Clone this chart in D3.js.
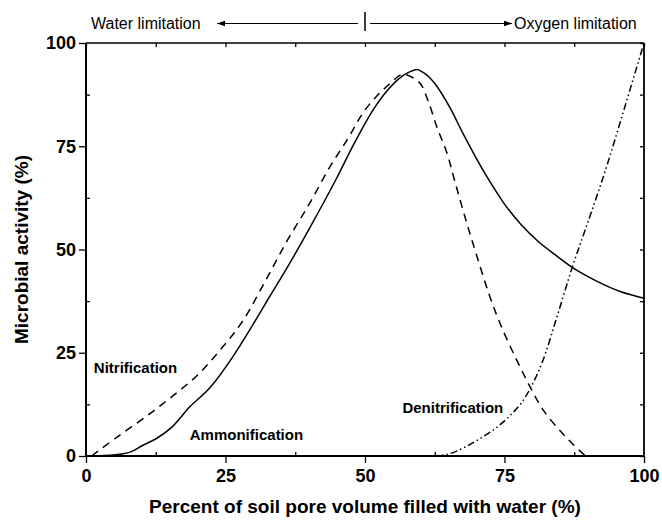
<!DOCTYPE html>
<html lang="en">
<head>
<meta charset="UTF-8">
<title>Microbial activity vs water-filled pore space</title>
<script src="https://d3js.org/d3.v7.min.js"></script>
<style>
  body { margin: 0; background: #fff; }
  svg { display: block; font-family: "Liberation Sans", Arial, sans-serif; }
  .tick text { font-size: 18px; font-weight: bold; fill: #000; }
  .curve { fill: none; stroke: #000; stroke-width: 1.5px; }
  .lbl { font-size: 15px; font-weight: bold; }
  .title { font-size: 19px; font-weight: bold; }
  .note { font-size: 16px; }
</style>
</head>
<body>
<svg width="662" height="520"></svg>
<script>
// x = % pore volume filled with water, y = microbial activity (%)
const ammonification = [
  [2, 0], [6, 0.4], [8, 1], [10.2, 2.6], [12.7, 4.3], [15.4, 7], [18.6, 11.9],
  [22.2, 16.5], [26.3, 24], [30, 32], [33, 38.8], [36, 45.5], [40, 55],
  [45, 67.5], [48, 75.5], [51.4, 83.7], [54, 88.5], [56.5, 91.8], [58, 93],
  [59.3, 93.6], [60.5, 92.8], [62.5, 90.2], [65.2, 84.4], [67.6, 78],
  [71.9, 67.5], [75, 61], [78, 56], [81, 52], [84, 48.8], [87, 45.8],
  [91.6, 42.3], [96, 39.7], [100, 38.2]
];
const nitrification = [
  [1, 0], [6, 5], [11, 9.8], [15.5, 14.5], [20, 19.6], [24, 25.6],
  [28, 32.5], [32, 42], [36, 52], [40, 61], [43.7, 70], [47, 77], [49.6, 83],
  [52, 87], [54.5, 90.2], [56.6, 92.4], [58, 92], [59.9, 90.2], [61.3, 86],
  [62.9, 79.6], [64.7, 73.3], [66, 67], [68, 57.5], [70, 48.6], [72.4, 38.5],
  [74.7, 30.5], [77.2, 23.2], [79.6, 16.7], [82, 11], [85.3, 5.6], [87.3, 2.8],
  [89.5, 0]
];
const denitrification = [
  [62, 0], [65, 0.5], [68, 2.2], [70.6, 4.2], [73, 6.3], [76, 9.8], [78, 12.8],
  [79.6, 16.3], [81.9, 23.2], [84.4, 33.7], [87.1, 45.5], [90.3, 58],
  [93.4, 70.5], [96, 82], [98, 91], [100, 100]
];
const majorTicks = [0, 25, 50, 75, 100];
const minorTicks = [12.5, 37.5, 62.5, 87.5];
const allTicks = [0, 12.5, 25, 37.5, 50, 62.5, 75, 87.5, 100];
const labels = [
  { text: "Nitrification", x: 1.4, y: 21.5 },
  { text: "Ammonification", x: 18.6, y: 5.2 },
  { text: "Denitrification", x: 56.7, y: 11.8 }
];

const margin = { top: 43, right: 18, bottom: 64, left: 86 };
const width = 662 - margin.left - margin.right;
const height = 520 - margin.top - margin.bottom;

const svg = d3.select("svg");
const g = svg.append("g").attr("transform", `translate(${margin.left},${margin.top})`);

const x = d3.scaleLinear().domain([0, 100]).range([0, width]);
const y = d3.scaleLinear().domain([0, 100]).range([height, 0]);

// bottom and left axes: major outside, minor inside
g.append("g")
  .attr("transform", `translate(0,${height})`)
  .call(d3.axisBottom(x).tickValues(majorTicks).tickSize(7).tickPadding(6))
  .call(a => a.select(".domain").remove());
g.append("g")
  .attr("transform", `translate(0,${height})`)
  .call(d3.axisBottom(x).tickValues(minorTicks).tickSize(-4).tickFormat(""))
  .call(a => a.select(".domain").remove());
g.append("g")
  .call(d3.axisLeft(y).tickValues(majorTicks).tickSize(7).tickPadding(3))
  .call(a => a.select(".domain").remove());
g.append("g")
  .call(d3.axisLeft(y).tickValues(minorTicks).tickSize(-4).tickFormat(""))
  .call(a => a.select(".domain").remove());
// top and right: small inside ticks
g.append("g")
  .call(d3.axisTop(x).tickValues(allTicks).tickSize(-4).tickFormat(""))
  .call(a => a.select(".domain").remove());
g.append("g")
  .attr("transform", `translate(${width},0)`)
  .call(d3.axisRight(y).tickValues(allTicks).tickSize(-4).tickFormat(""))
  .call(a => a.select(".domain").remove());
g.selectAll(".tick line").attr("stroke", "#000").attr("stroke-width", 1.3);

// frame
g.append("line").attr("x1", 0).attr("x2", width).attr("y1", 0).attr("y2", 0)
  .attr("stroke", "#000").attr("stroke-width", 1.5);
g.append("line").attr("x1", width).attr("x2", width).attr("y1", 0).attr("y2", height)
  .attr("stroke", "#000").attr("stroke-width", 1.8);
g.append("line").attr("x1", 0).attr("x2", 0).attr("y1", 0).attr("y2", height)
  .attr("stroke", "#000").attr("stroke-width", 2);
g.append("line").attr("x1", 0).attr("x2", width).attr("y1", height).attr("y2", height)
  .attr("stroke", "#000").attr("stroke-width", 2);

const line = d3.line().x(d => x(d[0])).y(d => y(d[1])).curve(d3.curveMonotoneX);
const lineN = d3.line().x(d => x(d[0])).y(d => y(d[1])).curve(d3.curveCatmullRom);

g.append("path").datum(ammonification).attr("class", "curve").attr("d", line);
g.append("path").datum(nitrification).attr("class", "curve")
  .attr("stroke-dasharray", "8,6").attr("d", lineN);
g.append("path").datum(denitrification).attr("class", "curve")
  .attr("stroke-dasharray", "7,3,1.5,3,1.5,3").attr("d", line);

g.selectAll(".lbl").data(labels).enter().append("text")
  .attr("class", "lbl")
  .attr("x", d => x(d.x)).attr("y", d => y(d.y))
  .attr("dy", "0.36em")
  .text(d => d.text);

// axis titles
svg.append("text").attr("class", "title")
  .attr("x", margin.left + width / 2).attr("y", 513)
  .attr("text-anchor", "middle")
  .text("Percent of soil pore volume filled with water (%)");
svg.append("text").attr("class", "title")
  .attr("transform", `translate(28,${margin.top + height / 2}) rotate(-90)`)
  .attr("text-anchor", "middle")
  .text("Microbial activity (%)");

// limitation arrows above the plot
svg.append("defs").append("marker")
  .attr("id", "head")
  .attr("viewBox", "0 -5 10 10")
  .attr("refX", 10).attr("refY", 0)
  .attr("markerWidth", 10).attr("markerHeight", 8)
  .attr("markerUnits", "userSpaceOnUse")
  .attr("orient", "auto")
  .append("path").attr("d", "M0,-3.5L10,0L0,3.5Z").attr("fill", "#000");

const midX = margin.left + x(50);
const ay = 23.5;
svg.append("line").attr("x1", midX).attr("x2", midX).attr("y1", 12).attr("y2", 31)
  .attr("stroke", "#000").attr("stroke-width", 1.5);
svg.append("line").attr("x1", midX - 7).attr("x2", 217).attr("y1", ay).attr("y2", ay)
  .attr("stroke", "#000").attr("stroke-width", 1.2).attr("marker-end", "url(#head)");
svg.append("line").attr("x1", midX + 5).attr("x2", 512).attr("y1", ay).attr("y2", ay)
  .attr("stroke", "#000").attr("stroke-width", 1.2).attr("marker-end", "url(#head)");
svg.append("text").attr("class", "note").attr("x", 91).attr("y", ay).attr("dy", "0.36em")
  .text("Water limitation");
svg.append("text").attr("class", "note").attr("x", 514).attr("y", ay).attr("dy", "0.36em")
  .text("Oxygen limitation");
</script>
</body>
</html>
